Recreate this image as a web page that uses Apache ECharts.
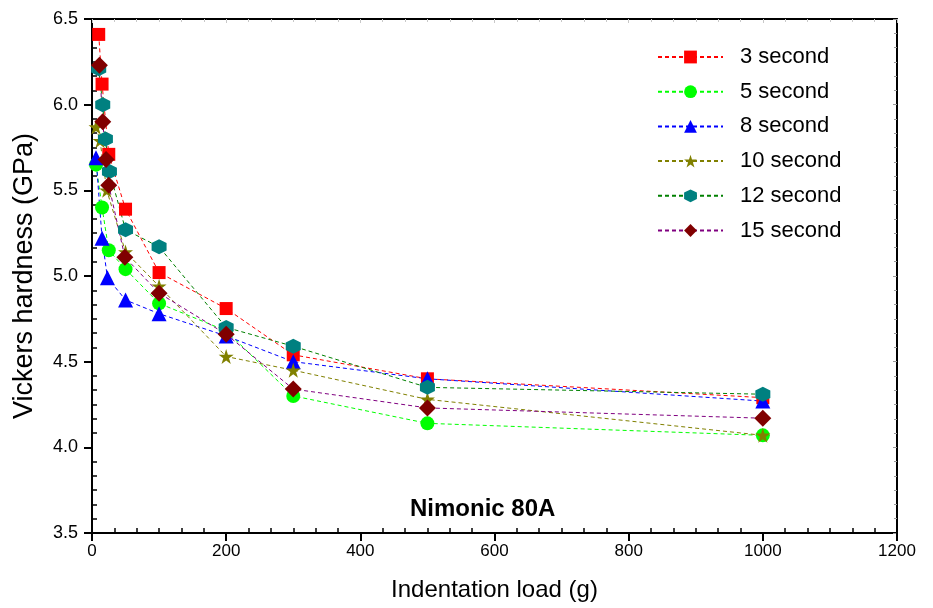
<!DOCTYPE html>
<html>
<head>
<meta charset="utf-8">
<script src="https://cdn.jsdelivr.net/npm/echarts@6/dist/echarts.min.js"></script>
<style>
  html, body { margin: 0; padding: 0; background: #fff; }
  #chart { width: 933px; height: 608px; }
</style>
</head>
<body>
<div id="chart"></div>
<script>
// loads (g) and hardness (GPa) per dwell time
const load3 = [10, 15, 25, 50, 100, 200, 300, 500, 1000]
const hv3 = [6.41, 6.12, 5.71, 5.39, 5.02, 4.81, 4.54, 4.40, 4.29]
const load5 = [6, 15, 25, 50, 100, 200, 300, 500, 1000]
const hv5 = [5.65, 5.40, 5.15, 5.04, 4.84, 4.68, 4.30, 4.14, 4.07]
const load8 = [6, 15, 23, 50, 100, 200, 300, 500, 1000]
const hv8 = [5.69, 5.22, 4.99, 4.86, 4.78, 4.65, 4.50, 4.40, 4.27]
const load10 = [6, 12, 22, 50, 100, 200, 300, 500, 1000]
const hv10 = [5.87, 5.79, 5.50, 5.14, 4.94, 4.53, 4.45, 4.28, 4.07]
const load12 = [10, 16, 20, 26, 50, 100, 200, 300, 500, 1000]
const hv12 = [6.21, 6.00, 5.80, 5.61, 5.27, 5.17, 4.70, 4.59, 4.35, 4.31]
const load15 = [11, 16, 21, 25, 49, 100, 200, 300, 500, 1000]
const hv15 = [6.23, 5.90, 5.68, 5.53, 5.11, 4.90, 4.66, 4.34, 4.23, 4.17]

const xTicks = [0, 1200, 200]
const yTicks = [3.5, 6.5, 0.5]

const hexagon = 'path://M0,-1 L0.866,-0.5 L0.866,0.5 L0,1 L-0.866,0.5 L-0.866,-0.5 Z'
const star = 'path://M0,-1 L0.2245,-0.309 L0.951,-0.309 L0.363,0.118 L0.588,0.809 L0,0.382 L-0.588,0.809 L-0.363,0.118 L-0.951,-0.309 L-0.2245,-0.309 Z'
const font = 'Arial, "Liberation Sans", sans-serif'

function mk(name, xs, ys, color, lineColor, symbol, size) {
  return {
    name, type: 'line',
    data: xs.map((x, i) => [x, ys[i]]),
    symbol, symbolSize: size,
    itemStyle: { color },
    lineStyle: { color: lineColor, width: 1, type: [4, 3] },
    z: 3
  }
}

const series = [
  mk('3 second', load3, hv3, '#ff0000', '#ff0000', 'rect', 13),
  mk('5 second', load5, hv5, '#00ff00', '#00ff00', 'circle', 14),
  mk('8 second', load8, hv8, '#0000ff', '#0000ff', 'triangle', 15),
  mk('10 second', load10, hv10, '#808000', '#808000', star, 15),
  mk('12 second', load12, hv12, '#008080', '#008000', hexagon, 15),
  mk('15 second', load15, hv15, '#800000', '#800080', 'diamond', 17)
]

const axisLine = { show: true, onZero: false, lineStyle: { color: '#000', width: 2 } }

const chart = echarts.init(document.getElementById('chart'))
chart.setOption({
  animation: false,
  backgroundColor: '#fff',
  grid: { left: 92, right: 36, top: 19, bottom: 75 },
  legend: {
    orient: 'vertical', left: 657, top: 46, padding: 0,
    itemWidth: 65, itemHeight: 16, itemGap: 12.7,
    textStyle: { fontSize: 22, fontFamily: font, color: '#000', padding: [0, 0, 0, 12] },
    data: series.map(s => s.name)
  },
  xAxis: [{
    type: 'value', min: xTicks[0], max: xTicks[1], interval: xTicks[2],
    name: 'Indentation load (g)', nameLocation: 'middle', nameGap: 45,
    nameTextStyle: { fontSize: 24, fontFamily: font, color: '#000' },
    axisLine,
    axisTick: { show: true, inside: false, length: 8, lineStyle: { width: 2, color: '#000' } },
    minorTick: { show: true, splitNumber: 6, length: -5, lineStyle: { width: 1.5, color: '#000' } },
    axisLabel: { fontSize: 17, fontFamily: font, color: '#000', margin: 10, formatter: v => String(v) },
    splitLine: { show: false }
  }, {
    type: 'value', position: 'top', min: xTicks[0], max: xTicks[1], interval: xTicks[2],
    axisLine,
    axisTick: { show: true, inside: true, length: 4, lineStyle: { width: 1, color: '#c8c8c8' } },
    minorTick: { show: true, splitNumber: 6, length: 3, lineStyle: { width: 1, color: '#c8c8c8' } },
    axisLabel: { show: false }, splitLine: { show: false }
  }],
  yAxis: [{
    type: 'value', min: yTicks[0], max: yTicks[1], interval: yTicks[2],
    name: 'Vickers hardness (GPa)', nameLocation: 'middle', nameGap: 54,
    nameTextStyle: { fontSize: 27, fontFamily: font, color: '#000' },
    axisLine,
    axisTick: { show: true, inside: false, length: 8, lineStyle: { width: 2, color: '#000' } },
    minorTick: { show: true, splitNumber: 6, length: -5, lineStyle: { width: 1.5, color: '#000' } },
    axisLabel: { fontSize: 18, fontFamily: font, color: '#000', margin: 14, formatter: v => v.toFixed(1) },
    splitLine: { show: false }
  }, {
    type: 'value', position: 'right', min: yTicks[0], max: yTicks[1], interval: yTicks[2],
    axisLine,
    axisTick: { show: true, inside: true, length: 4, lineStyle: { width: 1, color: '#999' } },
    minorTick: { show: true, splitNumber: 6, length: 3, lineStyle: { width: 1, color: '#999' } },
    axisLabel: { show: false }, splitLine: { show: false }
  }],
  graphic: [{
    type: 'text', left: 410, top: 497,
    style: { text: 'Nimonic 80A', font: 'bold 24px ' + font, fill: '#000' }
  }],
  series
})
</script>
</body>
</html>
